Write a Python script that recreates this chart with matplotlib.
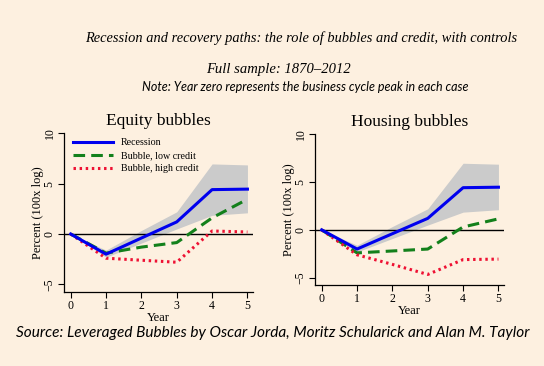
import matplotlib
matplotlib.use("Agg")
import matplotlib.pyplot as plt
import numpy as np

# data
years = [0, 1, 2, 3, 4, 5]
recession = [0.0, -2.0, -0.4, 1.2, 4.4, 4.45]
band_lo = [0.0, -2.3, -0.9, 0.5, 1.85, 2.1]
band_hi = [0.0, -1.6, 0.35, 2.2, 6.95, 6.85]

equity_low = [0.0, -1.9, -1.3, -0.85, 1.6, 3.45]
equity_high = [0.0, -2.4, -2.6, -2.8, 0.3, 0.2]

housing_low = [0.0, -2.4, -2.2, -2.0, 0.3, 1.15]
housing_high = [0.0, -2.6, -3.6, -4.65, -3.1, -3.05]

panels = [("Equity bubbles", equity_low, equity_high),
          ("Housing bubbles", housing_low, housing_high)]

bg = '#fdf0e0'
serif = 'Liberation Serif'

fig = plt.figure(figsize=(5.44, 3.66), dpi=100, facecolor=bg)

fig.text(0.553, 0.897, 'Recession and recovery paths: the role of bubbles and credit, with controls',
         ha='center', va='center', fontsize=10.4, style='italic', family=serif)
fig.text(0.511, 0.811, 'Full sample: 1870\u20132012', ha='center', va='center',
         fontsize=10.5, style='italic', family=serif)
fig.text(0.561, 0.762, 'Note: Year zero represents the business cycle peak in each case',
         ha='center', va='center', fontsize=9.0, style='italic', family='Lato')
fig.text(0.502, 0.090, 'Source: Leveraged Bubbles by Oscar Jorda, Moritz Schularick and Alan M. Taylor',
         ha='center', va='center', fontsize=11.1, style='italic', family='Lato')

positions = [[0.1176, 0.2022, 0.347, 0.434], [0.579, 0.2213, 0.347, 0.4126]]

for i, (title, low, high) in enumerate(panels):
    ax = fig.add_axes(positions[i])
    ax.set_facecolor(bg)
    ax.fill_between(years, band_lo, band_hi, color='#cbcbcb', lw=0, zorder=1)
    ax.axhline(0, color='black', lw=1.0, zorder=2)
    ax.plot(years, recession, color='#0000ee', lw=2.2, zorder=4, label='Recession')
    ax.plot(years, low, color='#13801b', lw=2.2, ls=(0, (3.8, 2)), zorder=3,
            label='Bubble, low credit')
    ax.plot(years, high, color='#ee1133', lw=2.2, ls=(0, (0.8, 1.2)), zorder=3,
            label='Bubble, high credit')

    ax.set_xlim(-0.19, 5.15)
    ax.set_ylim(-5.75, 10)
    ax.set_xticks(years)
    ax.set_yticks([-5, 0, 5, 10])
    for s in ('top', 'right'):
        ax.spines[s].set_visible(False)
    for s in ('left', 'bottom'):
        ax.spines[s].set_linewidth(0.9)
    ax.tick_params(direction='out', length=4, width=0.8, labelsize=8.5, pad=2)
    for lab in ax.get_xticklabels():
        lab.set_family(serif)
    for lab in ax.get_yticklabels():
        lab.set_family(serif)
        lab.set_rotation(90)
        lab.set_va('center')
    ax.set_xlabel('Year', family=serif, fontsize=9, labelpad=0)
    ax.set_ylabel('Percent (100x log)', family=serif, fontsize=9, labelpad=0)
    ax.set_title(title, family=serif, fontsize=12.5, pad=6)

    if i == 0:
        ax.legend(loc='upper left', frameon=False,
                  prop={'family': serif, 'size': 7.2}, handlelength=4.0,
                  borderaxespad=0.1, labelspacing=0.4, bbox_to_anchor=(0.02, 1.0))

fig.savefig('out.png', dpi=100, facecolor=bg)
